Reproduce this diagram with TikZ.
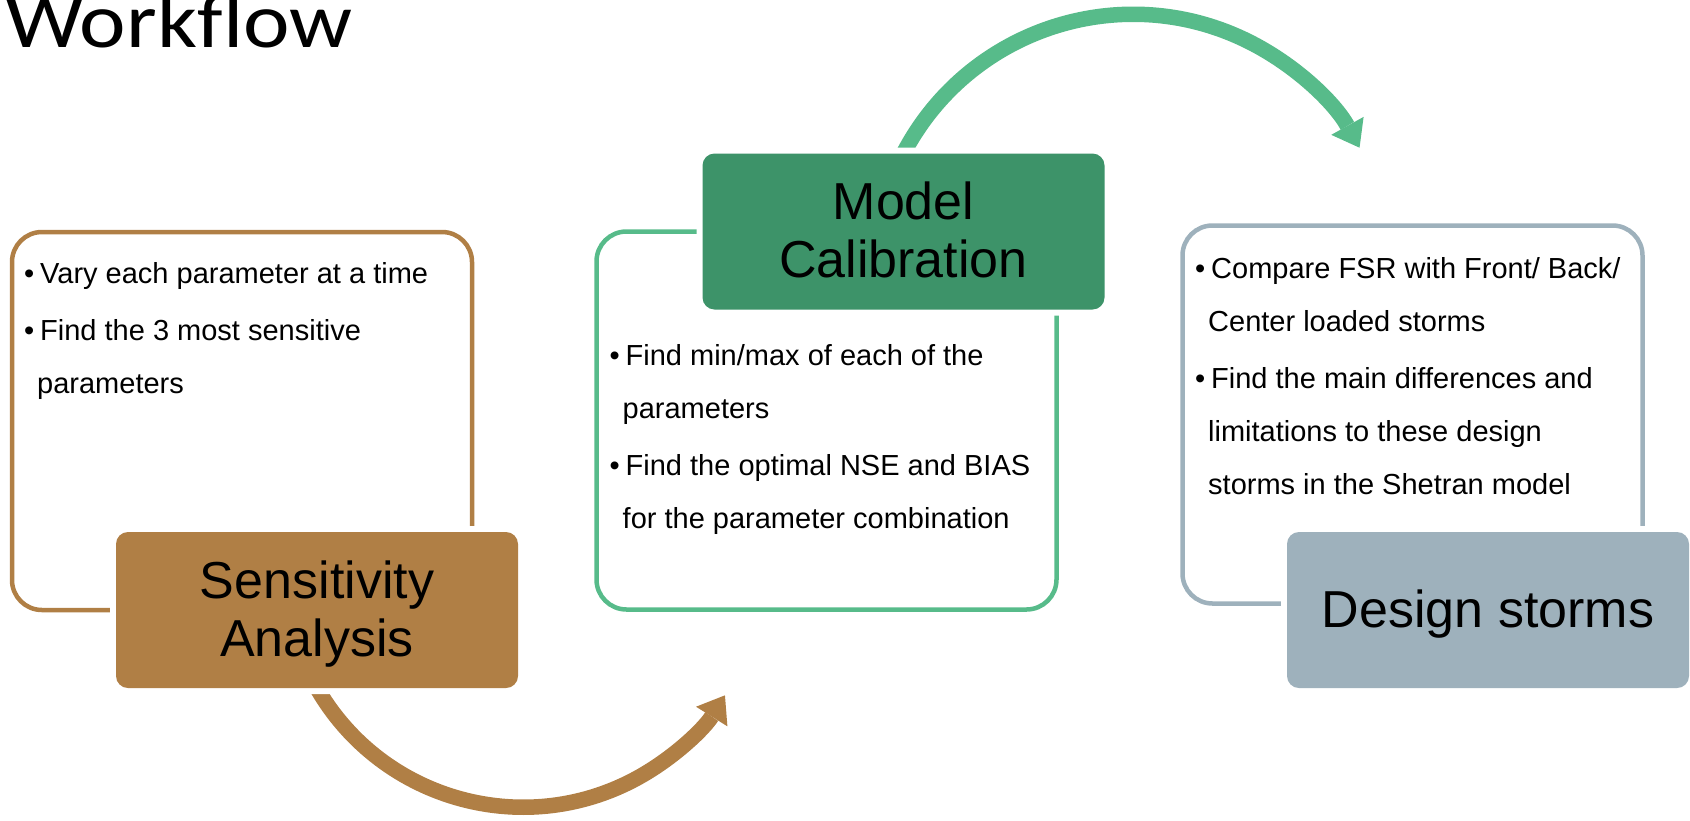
\documentclass[tikz,border=0pt]{standalone}
\usepackage{graphicx}
\usepackage{fontspec}
\setmainfont{Liberation Sans}
\newfontfamily\titlefont{Carlito}
\usetikzlibrary{arrows.meta,backgrounds}

\definecolor{sabrown}{HTML}{B07F45}
\definecolor{mcgreen}{HTML}{3D9369}
\definecolor{mclight}{HTML}{57BB8A}
\definecolor{dsgrey}{HTML}{9EB1BC}

\newcommand{\bitem}[1]{\makebox[16pt][l]{\textbullet}#1}
\newcommand{\bcont}{\hspace*{13pt}}

\tikzset{
  outline/.style={draw=#1, line width=4.5pt, rounded corners=30pt,
    minimum width=460pt, minimum height=378pt, inner sep=0pt, outer sep=0pt},
  stagebox/.style={fill=#1, preaction={draw=white, line width=12pt},
    rounded corners=12pt, minimum width=402pt, minimum height=156pt,
    inner sep=0pt, font=\fontsize{52}{58}\selectfont,
    text height=37pt, text depth=61pt},
  bullets/.style={anchor=base west, inner sep=0pt,
    font=\fontsize{29}{53}\selectfont},
  flowarrow/.style={line width=15.5pt,
    -{Triangle[length=25pt, width=37pt, line width=0pt]}},
}

\begin{document}
\begin{tikzpicture}[x=1pt, y=-1pt]
  \useasboundingbox (0,0) rectangle (1690,820);

  \node[anchor=base east, inner sep=0pt] (title) at (353,47)
    {\titlefont\fontsize{78}{90}\selectfont\scalebox{1.13}[1]{Workflow}};

  % outline boxes
  \node[outline=sabrown] (sabox) at (242,421) {};
  \node[outline=mclight] (mcbox) at (826.5,420.5) {};
  \node[outline=dsgrey] (dsbox) at (1412.5,414.5) {};

  % bullet texts
  \node[bullets] (satext) at (24,283) {\parbox[t]{450pt}{\raggedright
    \setlength{\parskip}{4pt}%
    \bitem{Vary each parameter at a time}\par
    \bitem{Find the 3 most sensitive}\\
    \bcont parameters}};
  \node[bullets] (mctext) at (609.5,365) {\parbox[t]{450pt}{\raggedright
    \setlength{\parskip}{4pt}%
    \bitem{Find min/max of each of the}\\
    \bcont parameters\par
    \bitem{Find the optimal NSE and BIAS}\\
    \bcont for the parameter combination}};
  \node[bullets] (dstext) at (1195,278) {\parbox[t]{450pt}{\raggedright
    \setlength{\parskip}{4pt}%
    \bitem{Compare FSR with Front/ Back/}\\
    \bcont Center loaded storms\par
    \bitem{Find the main differences and}\\
    \bcont limitations to these design\\
    \bcont storms in the Shetran model}};

  % stage headers
  \node[stagebox=sabrown] (sa) at (317,610)
    {\parbox[t]{402pt}{\centering Sensitivity\\Analysis}};
  \node[stagebox=mcgreen] (mc) at (903.5,231.5)
    {\parbox[t]{402pt}{\centering Model\\Calibration}};
  \node[stagebox=dsgrey, text depth=3pt] (ds) at (1488,610) {Design storms};

  % curved arrows
  \begin{scope}[on background layer]
    \draw[flowarrow, sabrown] (sa.south)
      arc[start angle=150, end angle=32, radius=238];
    \draw[flowarrow, mclight] (mc.north)
      arc[start angle=207.6, end angle=331, radius=259];
  \end{scope}

\end{tikzpicture}
\end{document}
